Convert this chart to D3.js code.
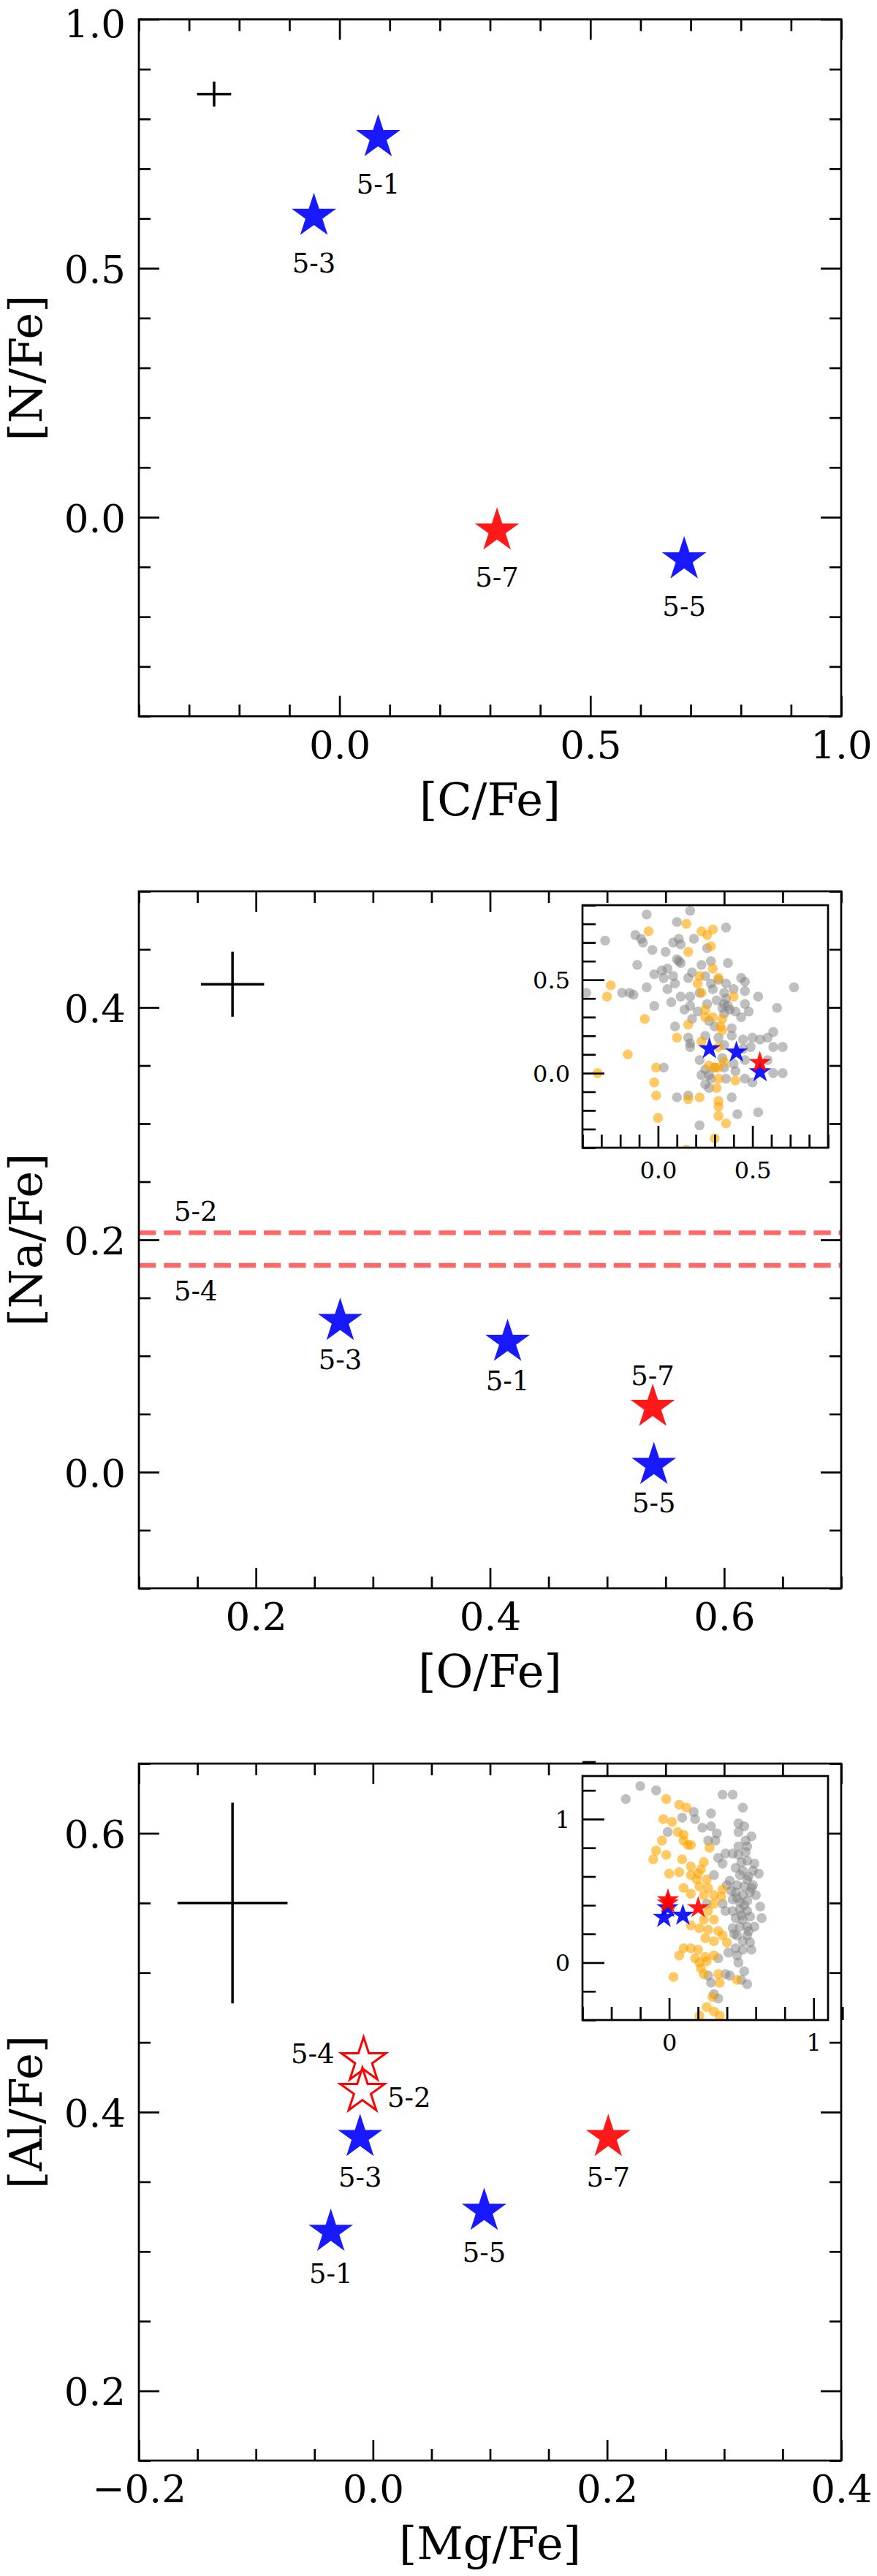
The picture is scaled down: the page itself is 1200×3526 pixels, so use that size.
<!DOCTYPE html>
<html>
<head>
<meta charset="utf-8">
<script src="https://cdn.jsdelivr.net/npm/d3@7"></script>
<style>
body { margin: 0; background: #fff; }
text { font-family: "DejaVu Serif", serif; fill: #000; }
</style>
</head>
<body>
<script>
// ---- values ----

// panel 1: [C/Fe] vs [N/Fe]
var cnNames = ["5-1", "5-3", "5-7", "5-5"];
var cnC = [0.077, -0.051, 0.314, 0.687];
var cnN = [0.763, 0.605, -0.027, -0.085];
var cnPop = ["b", "b", "r", "b"];

// panel 2: [O/Fe] vs [Na/Fe]
var onNames = ["5-3", "5-1", "5-7", "5-5"];
var onO = [0.272, 0.415, 0.539, 0.540];
var onNa = [0.130, 0.112, 0.056, 0.006];
var onPop = ["b", "b", "r", "b"];
// stars with Na only (no O) -> horizontal lines
var naOnlyNames = ["5-2", "5-4"];
var naOnlyNa = [0.206, 0.178];

// panel 3: [Mg/Fe] vs [Al/Fe]
var mgNames = ["5-4", "5-2", "5-3", "5-7", "5-5", "5-1"];
var mgMg = [-0.008, -0.009, -0.011, 0.201, 0.095, -0.036];
var mgAl = [0.437, 0.415, 0.382, 0.382, 0.329, 0.314];
var mgPop = ["r", "r", "b", "r", "b", "b"];
var mgOpen = [true, true, false, false, false, false];

// typical error bars (one per panel)
var errX = [-0.25, 0.18, -0.12];
var errY = [0.85, 0.42, 0.55];
var errXerr = [0.034, 0.027, 0.047];
var errYerr = [0.025, 0.028, 0.072];

// inset of panel 2: comparison samples, [O/Fe], [Na/Fe]
var onGrayO = [-0.06, 0.17, 0.10, 0.36, -0.28, -0.12, -0.09, -0.08, 0.11, 0.08, 0.12, 0.19, -0.03, 0.04, 0.26,
  -0.11, 0.10, 0.12, 0.28, 0.37, -0.02, 0.02, 0.05, 0.03, 0.08, 0.09, 0.16, 0.18, 0.25, 0.28, 0.32, 0.36, 0.44,
  0.46, -0.38, -0.19, -0.15, -0.13, -0.06, 0.05, 0.12, 0.17, 0.22, 0.29, 0.35, 0.40, 0.46, 0.53, 0.72, -0.02,
  0.07, 0.14, 0.17, 0.21, 0.26, 0.31, 0.35, 0.37, 0.41, 0.46, 0.48, 0.63, 0.09, 0.18, 0.27, 0.30, 0.35, 0.39,
  0.16, 0.17, 0.17, 0.25, 0.32, 0.39, 0.45, 0.50, 0.54, 0.58, 0.61, 0.61, 0.66, 0.45, 0.49, 0.22, 0.25, 0.27,
  0.30, 0.35, 0.40, 0.46, 0.58, 0.03, 0.23, 0.28, 0.25, 0.27, 0.36, 0.41, 0.46, 0.50, 0.61, 0.66, 0.10, 0.16,
  0.39, 0.42, 0.53, 0.22, 0.34, 0.35, 0.36, 0.38, 0.34, 0.11, 0.44, 0.23];
var onGrayNa = [0.85, 0.87, 0.81, 0.78, 0.71, 0.74, 0.72, 0.70, 0.72, 0.70, 0.69, 0.72, 0.66, 0.65, 0.67,
  0.58, 0.61, 0.59, 0.60, 0.59, 0.53, 0.55, 0.56, 0.51, 0.52, 0.48, 0.51, 0.54, 0.52, 0.48, 0.50, 0.48, 0.51,
  0.49, 0.43, 0.43, 0.43, 0.42, 0.46, 0.45, 0.41, 0.41, 0.43, 0.45, 0.43, 0.45, 0.44, 0.41, 0.46, 0.36,
  0.38, 0.34, 0.36, 0.33, 0.37, 0.39, 0.37, 0.36, 0.33, 0.37, 0.33, 0.35, 0.25, 0.29, 0.28, 0.25, 0.32, 0.24,
  0.19, 0.16, 0.14, 0.20, 0.19, 0.20, 0.18, 0.19, 0.18, 0.19, 0.22, 0.14, 0.14, 0.13, 0.14, 0.07, 0.02, -0.01,
  0.03, 0.03, 0.05, 0.07, 0.07, 0.03, -0.01, -0.03, -0.06, -0.08, -0.03, 0.01, -0.03, -0.05, 0.00, 0.00, -0.13, -0.12,
  -0.13, -0.22, -0.21, -0.28, 0.08, 0.15, 0.40, 0.34, 0.35, 0.60, 0.30, 0.58];
var onOrangeO = [-0.05, 0.15, 0.23, 0.29, 0.26, 0.28, 0.16, 0.29, 0.32, 0.22, 0.21, 0.23, -0.25, -0.27, 0.40,
  -0.07, 0.25, 0.25, 0.29, 0.34, 0.16, 0.33, 0.34, 0.10, 0.23, 0.32, 0.35, -0.16, 0.27, 0.30, 0.32, -0.01,
  -0.32, -0.02, 0.32, 0.31, 0.41, -0.01, 0.16, 0.22, 0.32, 0.32, 0.32, 0.36, 0.00, 0.30, 0.15];
var onOrangeNa = [0.76, 0.80, 0.76, 0.77, 0.74, 0.68, 0.65, 0.56, 0.51, 0.52, 0.48, 0.43, 0.47, 0.41, 0.41,
  0.29, 0.34, 0.30, 0.30, 0.29, 0.26, 0.25, 0.23, 0.19, 0.17, 0.14, 0.06, 0.10, 0.04, 0.03, 0.03, 0.03,
  0.00, -0.05, -0.03, -0.08, -0.04, -0.12, -0.14, -0.13, -0.15, -0.18, -0.23, -0.27, -0.24, -0.35, -0.41];

// inset of panel 3: comparison samples, [Mg/Fe], [Al/Fe]
var mgGrayMg = [-0.30, -0.20, -0.09, 0.37, 0.44, 0.51, 0.17, 0.09, 0.18, 0.29, -0.01, 0.23, 0.29, 0.33, 0.48,
  0.52, 0.48, 0.57, 0.27, 0.32, 0.53, 0.48, 0.54, 0.34, 0.39, 0.44, 0.48, 0.53, 0.54, 0.59, 0.37, 0.46, 0.51,
  0.58, 0.62, 0.31, 0.42, 0.49, 0.54, 0.47, 0.52, 0.58, 0.46, 0.51, 0.56, 0.44, 0.49, 0.54, 0.39, 0.44, 0.49,
  0.54, 0.63, 0.46, 0.51, 0.56, 0.64, 0.44, 0.49, 0.54, 0.59, 0.47, 0.54, 0.51, 0.56, 0.46, 0.51, 0.57, 0.41,
  0.47, 0.34, 0.48, 0.52, 0.54, 0.39, 0.29, 0.27, 0.31, 0.34, 0.42, 0.50, 0.26, 0.37, 0.40,
  0.50, 0.55, 0.47, 0.52, 0.57, 0.50, 0.45, 0.55, 0.60, 0.43];
var mgGrayAl = [1.14, 1.23, 1.20, 1.17, 1.17, 1.08, 1.05, 1.01, 1.00, 1.04, 0.91, 0.94, 0.95, 0.90, 0.97,
  0.95, 0.91, 0.88, 0.85, 0.85, 0.85, 0.81, 0.81, 0.73, 0.76, 0.76, 0.75, 0.77, 0.71, 0.69, 0.69, 0.66, 0.64,
  0.64, 0.62, 0.61, 0.57, 0.61, 0.58, 0.54, 0.53, 0.54, 0.49, 0.47, 0.49, 0.44, 0.42, 0.43, 0.36, 0.36, 0.37,
  0.36, 0.39, 0.31, 0.30, 0.32, 0.31, 0.24, 0.25, 0.25, 0.25, 0.19, 0.19, 0.15, 0.14, 0.10, 0.09, 0.09, 0.07,
  0.05, 0.03, 0.00, -0.06, -0.15, -0.08, -0.14, -0.09, -0.22, -0.25, -0.09, -0.12, 0.41, 0.41, 0.54,
  0.70, 0.60, 0.45, 0.40, 0.52, 0.33, 0.20, 0.22, 0.47, 0.50];
var mgOrangeMg = [-0.02, 0.07, 0.12, -0.04, 0.02, 0.06, 0.10, -0.05, 0.10, 0.13, 0.15, 0.28, -0.09, -0.02,
  -0.11, 0.09, 0.24, 0.15, 0.22, 0.00, 0.07, 0.15, 0.20, 0.19, 0.26, 0.10, 0.21, 0.27, 0.37, 0.15, 0.24, 0.31,
  0.36, 0.31, 0.27, 0.24, 0.31, 0.15, 0.21, 0.27, 0.34, 0.37, 0.25, 0.31, 0.40, 0.10, 0.15, 0.20, 0.07, 0.18,
  0.25, 0.31, 0.21, 0.26, 0.22, 0.24, 0.34, 0.03, 0.35, 0.47, 0.30, 0.26, 0.31, 0.21, 0.35];
var mgOrangeAl = [1.14, 1.10, 1.08, 1.00, 0.98, 0.91, 0.89, 0.85, 0.85, 0.82, 0.82, 0.80, 0.78, 0.75,
  0.72, 0.72, 0.70, 0.67, 0.65, 0.62, 0.63, 0.61, 0.62, 0.58, 0.58, 0.52, 0.53, 0.52, 0.51, 0.48, 0.47, 0.47,
  0.46, 0.41, 0.36, 0.30, 0.30, 0.26, 0.24, 0.23, 0.22, 0.19, 0.17, 0.15, 0.14, 0.10, 0.10, 0.09, 0.05, 0.03,
  0.04, 0.05, 0.00, 0.01, -0.04, -0.08, -0.08, -0.10, -0.14, -0.12, -0.24, -0.31, -0.34, -0.37, -0.37];

// ---- layout and styles ----
var W = 1200, H = 3526;
var left = 190, pw = 961, ph = 954;
var colors = { b: "#0000ff", r: "#ff0000" };
var lw = 2.7;

var svg = d3.select("body").append("svg")
  .attr("width", W)
  .attr("height", H);

function stepTicks(lo, hi, step) {
  var a = Math.round(lo / step), b = Math.round(hi / step);
  return d3.range(a, b + 1).map(function(i) { return +(i * step).toFixed(4); });
}

function minorOf(all, major) {
  return all.filter(function(v) {
    return !major.some(function(m) { return Math.abs(m - v) < 1e-6; });
  });
}

// one set of ticks on one side; labels only when fmt is given
function drawTicks(g, axisFn, scale, values, len, fmt, fontSize) {
  var ax = axisFn(scale).tickValues(values).tickSize(-len).tickPadding(0);
  ax.tickFormat(fmt ? fmt : function() { return ""; });
  g.call(ax);
  g.select(".domain").remove();
  g.selectAll(".tick line").attr("stroke", "#000").attr("stroke-width", lw);
  g.selectAll(".tick text")
    .attr("font-family", "DejaVu Serif")
    .attr("font-size", fontSize)
    .attr("fill", "#000");
  return g;
}

function starPath(size) {
  return d3.symbol().type(d3.symbolStar).size(size)();
}

function drawPanel(p) {
  var g = svg.append("g").attr("transform", "translate(" + left + "," + p.top + ")");
  var x = d3.scaleLinear().domain(p.xDomain).range([0, pw]);
  var y = d3.scaleLinear().domain(p.yDomain).range([ph, 0]);

  var xAll = stepTicks(p.xDomain[0], p.xDomain[1], p.xMinor);
  var yAll = stepTicks(p.yDomain[0], p.yDomain[1], p.yMinor);
  var xMin = minorOf(xAll, p.xMajor), yMin = minorOf(yAll, p.yMajor);
  var fmt = d3.format(".1f");

  // bottom
  var gb = g.append("g").attr("transform", "translate(0," + ph + ")");
  drawTicks(gb.append("g"), d3.axisBottom, x, xMin, 16);
  drawTicks(gb.append("g"), d3.axisBottom, x, p.xMajor, 28, fmt, 53)
    .selectAll(".tick text").attr("y", 57).attr("dy", null);
  // top
  drawTicks(g.append("g"), d3.axisTop, x, xMin, 16);
  drawTicks(g.append("g"), d3.axisTop, x, p.xMajor, 28);
  // left
  drawTicks(g.append("g"), d3.axisLeft, y, yMin, 16);
  drawTicks(g.append("g"), d3.axisLeft, y, p.yMajor, 28, fmt, 53)
    .selectAll(".tick text").attr("x", -18).attr("dy", "0.36em")
    // keep a label sitting on the top edge of the page inside the picture
    .attr("y", function(d) { return Math.max(y(d), 31 - p.top) - y(d); });
  // right
  var gr = g.append("g").attr("transform", "translate(" + pw + ",0)");
  drawTicks(gr.append("g"), d3.axisRight, y, yMin, 16);
  drawTicks(gr.append("g"), d3.axisRight, y, p.yMajor, 28);

  // axis titles
  g.append("text")
    .attr("x", pw / 2).attr("y", ph + 135)
    .attr("text-anchor", "middle")
    .attr("font-size", 62)
    .text(p.xLabel);
  g.append("text")
    .attr("transform", "translate(" + (57 - left) + "," + (ph / 2) + ") rotate(-90)")
    .attr("text-anchor", "middle")
    .attr("font-size", 62)
    .text(p.yLabel);

  var plot = g.append("g");

  // typical error
  var i = p.index;
  plot.append("line")
    .attr("x1", x(errX[i] - errXerr[i])).attr("x2", x(errX[i] + errXerr[i]))
    .attr("y1", y(errY[i])).attr("y2", y(errY[i]))
    .attr("stroke", "#000").attr("stroke-width", 3.5);
  plot.append("line")
    .attr("x1", x(errX[i])).attr("x2", x(errX[i]))
    .attr("y1", y(errY[i] - errYerr[i])).attr("y2", y(errY[i] + errYerr[i]))
    .attr("stroke", "#000").attr("stroke-width", 3.5);

  if (p.hlines) p.hlines(plot, x, y);

  // inset sits on top of the main ticks
  if (p.inset) drawInset(g, p.inset, p.stars);

  // programme stars
  var pts = p.stars.names.map(function(n, k) {
    return {
      name: n, x: p.stars.x[k], y: p.stars.y[k], pop: p.stars.pop[k],
      open: p.stars.open ? p.stars.open[k] : false, lab: p.labels[k]
    };
  });
  var sp = starPath(1150);
  plot.selectAll("path.star")
    .data(pts)
    .enter()
    .append("path")
    .attr("class", "star")
    .attr("d", sp)
    .attr("transform", function(d) { return "translate(" + x(d.x) + "," + y(d.y) + ")"; })
    .attr("fill", function(d) { return d.open ? "#fff" : colors[d.pop]; })
    .attr("fill-opacity", function(d) { return d.open ? 1 : 0.9; })
    .attr("stroke", function(d) { return d.open ? colors[d.pop] : "none"; })
    .attr("stroke-width", 3);

  plot.selectAll("text.slab")
    .data(pts)
    .enter()
    .append("text")
    .attr("class", "slab")
    .attr("x", function(d) { return x(d.x) + d.lab[0]; })
    .attr("y", function(d) { return y(d.y) + d.lab[1]; })
    .attr("text-anchor", function(d) { return d.lab[2] || "middle"; })
    .attr("font-size", 37)
    .text(function(d) { return d.name; });

  // frame
  g.append("rect")
    .attr("width", pw).attr("height", ph)
    .attr("fill", "none").attr("stroke", "#000").attr("stroke-width", lw);
}

function drawInset(g, s, stars) {
  var ig = g.append("g").attr("transform", "translate(" + (s.x0 - left) + "," + (s.y0 - s.top) + ")");
  var x = d3.scaleLinear().domain(s.xDomain).range([0, s.w]);
  var y = d3.scaleLinear().domain(s.yDomain).range([s.h, 0]);
  var cid = "clip" + s.id;

  ig.append("rect").attr("width", s.w).attr("height", s.h).attr("fill", "#fff");
  ig.append("clipPath").attr("id", cid)
    .append("rect").attr("width", s.w).attr("height", s.h);

  var dots = ig.append("g").attr("clip-path", "url(#" + cid + ")");
  var gray = s.grayX.map(function(v, k) { return [v, s.grayY[k]]; });
  var orange = s.orangeX.map(function(v, k) { return [v, s.orangeY[k]]; });
  dots.selectAll("circle.gray")
    .data(gray).enter().append("circle")
    .attr("class", "gray")
    .attr("cx", function(d) { return x(d[0]); })
    .attr("cy", function(d) { return y(d[1]); })
    .attr("r", 6.8)
    .attr("fill", "#808080").attr("fill-opacity", 0.5);
  dots.selectAll("circle.orange")
    .data(orange).enter().append("circle")
    .attr("class", "orange")
    .attr("cx", function(d) { return x(d[0]); })
    .attr("cy", function(d) { return y(d[1]); })
    .attr("r", 6.8)
    .attr("fill", "#ffa500").attr("fill-opacity", 0.6);

  // the same programme stars, filled, red on top
  var pts = stars.names.map(function(n, k) { return { x: stars.x[k], y: stars.y[k], pop: stars.pop[k] }; });
  pts.sort(function(a, b) { return (a.pop === "r") - (b.pop === "r"); });
  dots.selectAll("path")
    .data(pts).enter().append("path")
    .attr("d", starPath(290))
    .attr("transform", function(d) { return "translate(" + x(d.x) + "," + y(d.y) + ")"; })
    .attr("fill", function(d) { return colors[d.pop]; })
    .attr("fill-opacity", 0.9);

  var xAll = stepTicks(s.xDomain[0], s.xDomain[1], s.minor);
  var yAll = stepTicks(s.yDomain[0], s.yDomain[1], s.minor);
  var gb = ig.append("g").attr("transform", "translate(0," + s.h + ")");
  drawTicks(gb.append("g"), d3.axisBottom, x, minorOf(xAll, s.major), 18);
  drawTicks(gb.append("g"), d3.axisBottom, x, s.major, 30, s.fmt, 32)
    .selectAll(".tick text").attr("y", 42).attr("dy", null);
  drawTicks(ig.append("g"), d3.axisLeft, y, minorOf(yAll, s.major), 18);
  drawTicks(ig.append("g"), d3.axisLeft, y, s.major, 30, s.fmt, 32)
    .selectAll(".tick text").attr("x", -17).attr("dy", "0.36em");

  ig.append("rect")
    .attr("width", s.w).attr("height", s.h)
    .attr("fill", "none").attr("stroke", "#000").attr("stroke-width", lw);
}

// panel 1
drawPanel({
  index: 0, top: 26.5,
  xDomain: [-0.4, 1.0], yDomain: [-0.4, 1.0],
  xMajor: [0, 0.5, 1.0], yMajor: [0, 0.5, 1.0], xMinor: 0.1, yMinor: 0.1,
  xLabel: "[C/Fe]", yLabel: "[N/Fe]",
  stars: { names: cnNames, x: cnC, y: cnN, pop: cnPop },
  labels: [[0, 77], [0, 77], [0, 77], [0, 77]]
});

// panel 2
drawPanel({
  index: 1, top: 1220,
  xDomain: [0.1, 0.7], yDomain: [-0.1, 0.5],
  xMajor: [0.2, 0.4, 0.6], yMajor: [0, 0.2, 0.4], xMinor: 0.05, yMinor: 0.05,
  xLabel: "[O/Fe]", yLabel: "[Na/Fe]",
  stars: { names: onNames, x: onO, y: onNa, pop: onPop },
  labels: [[0, 66], [0, 66], [0, -30], [0, 65]],
  hlines: function(plot, x, y) {
    var offs = [-16, 48];
    naOnlyNa.forEach(function(v, k) {
      plot.append("line")
        .attr("x1", 0).attr("x2", pw)
        .attr("y1", y(v)).attr("y2", y(v))
        .attr("stroke", "#ff0000").attr("stroke-opacity", 0.6)
        .attr("stroke-width", 6.3)
        .attr("stroke-dasharray", "23.3,10.9");
      plot.append("text")
        .attr("x", x(0.13)).attr("y", y(v) + offs[k])
        .attr("font-size", 37)
        .text(naOnlyNames[k]);
    });
  },
  inset: {
    id: 2, top: 1220, x0: 797, y0: 1239, w: 336, h: 332,
    xDomain: [-0.4, 0.9], yDomain: [-0.4, 0.9], major: [0, 0.5], minor: 0.1,
    fmt: d3.format(".1f"),
    grayX: onGrayO, grayY: onGrayNa, orangeX: onOrangeO, orangeY: onOrangeNa
  }
});

// panel 3
drawPanel({
  index: 2, top: 2414,
  xDomain: [-0.2, 0.4], yDomain: [0.15, 0.65],
  xMajor: [-0.2, 0, 0.2, 0.4], yMajor: [0.2, 0.4, 0.6], xMinor: 0.05, yMinor: 0.05,
  xLabel: "[Mg/Fe]", yLabel: "[Al/Fe]",
  stars: { names: mgNames, x: mgMg, y: mgAl, pop: mgPop, open: mgOpen },
  labels: [[-40, 4, "end"], [34, 22, "start"], [0, 68], [0, 68], [0, 70], [0, 70]],
  inset: {
    id: 3, top: 2414, x0: 797, y0: 2431, w: 336, h: 334,
    xDomain: [-0.6, 1.1], yDomain: [-0.4, 1.3], major: [0, 1], minor: 0.2,
    fmt: d3.format("d"),
    grayX: mgGrayMg, grayY: mgGrayAl, orangeX: mgOrangeMg, orangeY: mgOrangeAl
  }
});
</script>
</body>
</html>
